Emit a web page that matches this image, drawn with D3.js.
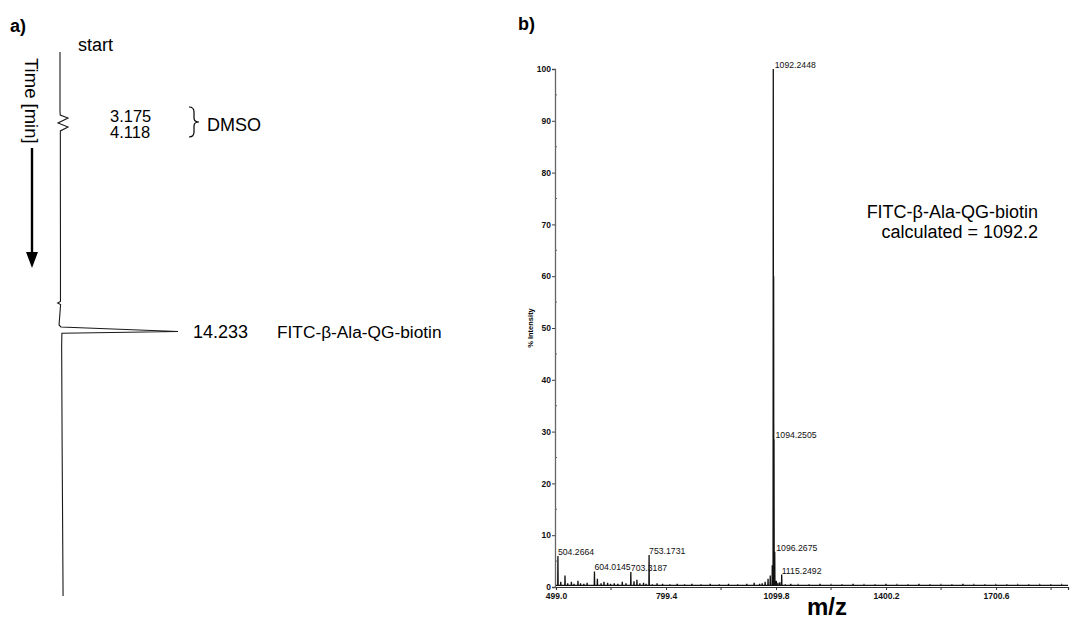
<!DOCTYPE html>
<html><head><meta charset="utf-8">
<script src="https://cdn.jsdelivr.net/npm/d3@7"></script>
<style>body{margin:0;background:#fff} svg{display:block} text{font-family:Arial,"Liberation Sans",sans-serif}</style>
</head><body><svg id="c" width="1070" height="621"></svg>
<script>
// ---------- Panel a: HPLC chromatogram (time runs downward) ----------
const chromTime   = [0, 3.0, 3.21, 3.36, 3.61, 3.82, 4.02, 6, 10, 12.7, 12.78, 12.86, 13.9, 14.0, 14.233, 14.32, 15, 20, 27.7];
const chromSignal = [0, 0, 0.2, 6.8, -1.7, 6.8, 0.3, 0.3, 0.4, 0.4, -2, 0.5, -0.8, 0.8, 100, 1.6, 1.4, 1.8, 2.6];
const dmsoLabels = ["3.175", "4.118"];
const mainPeakTime = 14.233;
const mainPeakLabel = "14.233";
const compoundName = "FITC-β-Ala-QG-biotin";

// ---------- Panel b: MALDI mass spectrum ----------
const msLabelMz  = [504.2664, 604.0145, 703.3187, 753.1731, 1092.2448, 1094.2505, 1096.2675, 1115.2492];
const msLabelInt = [6.0, 3.0, 2.9, 6.2, 100, 28.5, 6.8, 2.4];
const msOtherMz  = [1093.25, 1089.5, 1084.0, 1078.0, 1070.0, 1062.0, 1055.0, 1100.5, 1105.0, 1110.0,
                    512, 523.6, 531, 541, 548, 559, 566, 575, 584, 612, 622, 630, 640, 648, 658, 668, 680, 690,
                    712, 720, 728, 738, 745, 762, 775, 790, 810, 830, 850, 870, 895, 920, 945, 970, 995, 1020, 1040,
                    1125, 1140, 1160, 1190, 1220, 1250, 1280, 1310, 1340, 1370, 1400, 1430, 1460, 1490, 1520,
                    1550, 1580, 1610, 1640, 1670, 1700, 1730, 1760, 1790, 1820, 1850, 1880];
const msOtherInt = [60, 4.2, 2.2, 1.6, 1.0, 0.7, 0.6, 1.2, 0.8, 0.9,
                    1.0, 2.2, 0.7, 1.0, 0.6, 1.2, 0.7, 0.6, 0.8, 1.6, 0.7, 1.0, 0.8, 0.6, 0.7, 0.6, 1.0, 0.7,
                    1.1, 1.4, 0.7, 0.8, 0.6, 0.5, 0.7, 0.6, 0.5, 0.6, 0.5, 0.6, 0.5, 0.6, 0.5, 0.6, 0.5, 0.6, 0.8,
                    0.5, 0.6, 0.4, 0.5, 0.6, 0.4, 0.5, 0.6, 0.4, 0.5, 0.6, 0.4, 0.5, 0.6, 0.5,
                    0.4, 0.5, 0.6, 0.4, 0.5, 0.4, 0.5, 0.4, 0.5, 0.4, 0.5, 0.4];
const msTickVals   = [499.0, 799.4, 1099.8, 1400.2, 1700.6];
const msTickLabels = ["499.0", "799.4", "1099.8", "1400.2", "1700.6"];
const msMinorTicks = [649.2, 949.6, 1250.0, 1550.4, 1850.8];
const intTicks = d3.range(0, 101, 10);
const intMinor = d3.range(5, 100, 10);

const svg = d3.select("#c");

// ===== Panel a =====
svg.append("text").attr("x", 10).attr("y", 32).attr("font-size", 18).attr("font-weight", "bold").text("a)");
svg.append("text").attr("x", 78).attr("y", 51).attr("font-size", 18).text("start");

const tY = d3.scaleLinear().domain([0, 27.7]).range([52, 596]);
const sX = d3.scaleLinear().domain([0, 100]).range([60, 178]);
const chromLine = d3.line().x((d, i) => sX(chromSignal[i])).y((d, i) => tY(d));
svg.append("path").datum(chromTime).attr("d", chromLine)
  .attr("fill", "none").attr("stroke", "#1a1a1a").attr("stroke-width", 1.1).attr("stroke-linejoin", "miter");

// Time axis label + arrow
svg.append("text").attr("transform", "translate(25,58) rotate(90)").attr("font-size", 18.5).text("Time [min]");
svg.append("line").attr("x1", 32).attr("x2", 32).attr("y1", 148).attr("y2", 254).attr("stroke", "#000").attr("stroke-width", 2.4);
svg.append("path").attr("d", "M26,252 L38,252 L32,268 Z").attr("fill", "#000");

// DMSO labels and brace
dmsoLabels.forEach((t, i) => {
  svg.append("text").attr("x", 110).attr("y", 122 + i * 16).attr("font-size", 16.5).text(t);
});
svg.append("path").attr("d", "M189,107 Q194,107 194,112 L194,118 Q194,122 199,122 Q194,122 194,126 L194,132 Q194,137 189,137")
  .attr("fill", "none").attr("stroke", "#000").attr("stroke-width", 1.2);
svg.append("text").attr("x", 207).attr("y", 131).attr("font-size", 18).text("DMSO");

svg.append("text").attr("x", 193).attr("y", tY(mainPeakTime) + 6.5).attr("font-size", 18).text(mainPeakLabel);
svg.append("text").attr("x", 277).attr("y", tY(mainPeakTime) + 6.5).attr("font-size", 17.3).text(compoundName);

// ===== Panel b =====
svg.append("text").attr("x", 518).attr("y", 30).attr("font-size", 18).attr("font-weight", "bold").text("b)");

const mzX = d3.scaleLinear().domain([499.0, 1897]).range([556, 1068]);
const intY = d3.scaleLinear().domain([0, 100]).range([587, 69]);

// axes
const yAxis = svg.append("g").attr("transform", "translate(555,0)")
  .call(d3.axisLeft(intY).tickValues(intTicks).tickSize(3).tickPadding(1).tickFormat(d3.format("d")));
yAxis.select(".domain").attr("stroke", "#666").attr("stroke-width", 1.3);
yAxis.selectAll(".tick line").attr("stroke", "#444");
yAxis.selectAll(".tick text").attr("font-size", 8.5).attr("font-weight", "bold").attr("fill", "#111")
  .attr("font-family", "Arial, 'Liberation Sans', sans-serif");
yAxis.selectAll(".minor").data(intMinor).enter().append("line")
  .attr("x1", 0).attr("x2", 2).attr("y1", d => intY(d)).attr("y2", d => intY(d)).attr("stroke", "#666");

const xAxis = svg.append("g").attr("transform", "translate(0,587)")
  .call(d3.axisBottom(mzX).tickValues(msTickVals).tickSize(3).tickPadding(3).tickFormat((d, i) => msTickLabels[i]));
xAxis.select(".domain").attr("stroke", "#333").attr("stroke-width", 1.2);
xAxis.selectAll(".tick line").attr("stroke", "#333");
xAxis.selectAll(".tick text").attr("font-size", 8.5).attr("font-weight", "bold").attr("fill", "#111")
  .attr("font-family", "Arial, 'Liberation Sans', sans-serif");
xAxis.selectAll(".minor").data(msMinorTicks).enter().append("line")
  .attr("x1", d => mzX(d)).attr("x2", d => mzX(d)).attr("y1", 0).attr("y2", 3).attr("stroke", "#333");

// spectrum as a continuous stick trace
const sticks = msLabelMz.map((m, i) => [m, msLabelInt[i]])
  .concat(msOtherMz.map((m, i) => [m, msOtherInt[i]]))
  .sort((a, b) => a[0] - b[0]);
const specPts = [[499.0, 0.3]];
sticks.forEach(([m, h]) => { specPts.push([m - 0.6, 0.3], [m, h], [m + 0.6, 0.3]); });
specPts.push([1897, 0.3]);
svg.append("path").datum(specPts)
  .attr("d", d3.line().x(d => mzX(d[0])).y(d => intY(d[1])))
  .attr("fill", "none").attr("stroke", "#111").attr("stroke-width", 1.3);

// peak labels
msLabelMz.forEach((m, i) => {
  const big = m > 1090 && m < 1100;
  svg.append("text").attr("x", mzX(m) + (big ? 1.5 : 0)).attr("y", intY(msLabelInt[i]) - 1)
    .attr("font-size", 8.7).attr("fill", "#111").text(m.toFixed(4));
});

// axis titles
svg.append("text").attr("transform", "translate(533,328) rotate(-90)").attr("text-anchor", "middle")
  .attr("font-size", 7.5).attr("font-weight", "bold").text("% Intensity");
svg.append("text").attr("x", 827).attr("y", 615).attr("text-anchor", "middle")
  .attr("font-size", 24).attr("font-weight", "bold").text("m/z");

// annotation
svg.append("text").attr("x", 1038).attr("y", 218).attr("text-anchor", "end").attr("font-size", 18).text(compoundName);
svg.append("text").attr("x", 1038).attr("y", 238).attr("text-anchor", "end").attr("font-size", 18).text("calculated = 1092.2");
</script></body></html>
